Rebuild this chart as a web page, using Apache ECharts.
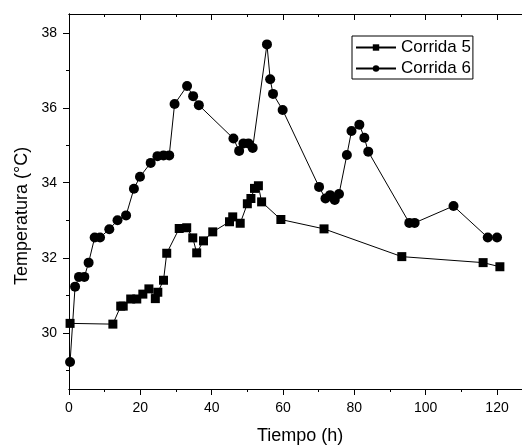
<!DOCTYPE html>
<html>
<head>
<meta charset="utf-8">
<script src="https://cdn.jsdelivr.net/npm/echarts@6/dist/echarts.min.js"></script>
<style>
  html, body { margin: 0; padding: 0; background: #fff; }
  #chart { width: 522px; height: 445px; }
</style>
</head>
<body>
<div id="chart"></div>
<script>
// Corrida 5 (squares)
const tiempo5 = [0.3, 12.3, 14.5, 15.2, 17.3, 19.0, 20.7, 22.4, 24.2, 24.9, 26.5, 27.4, 30.9, 33.0, 34.7, 35.8, 37.7, 40.3, 45.0, 45.9, 48.0, 50.0, 51.0, 52.0, 53.1, 54.0, 59.4, 71.5, 93.3, 116.1, 120.8];
const temp5 = [30.25, 30.23, 30.71, 30.71, 30.9, 30.9, 31.03, 31.17, 30.91, 31.08, 31.4, 32.12, 32.78, 32.8, 32.53, 32.13, 32.45, 32.69, 32.96, 33.09, 32.92, 33.44, 33.58, 33.85, 33.92, 33.49, 33.02, 32.77, 32.03, 31.87, 31.76];

// Corrida 6 (circles)
const tiempo6 = [0.3, 1.7, 2.8, 4.3, 5.5, 7.2, 8.7, 11.3, 13.6, 16.0, 18.2, 19.9, 22.9, 24.8, 26.5, 28.1, 29.6, 33.1, 34.8, 36.4, 46.1, 47.7, 48.9, 50.3, 51.5, 55.5, 56.4, 57.2, 59.9, 70.1, 71.9, 73.2, 74.5, 75.7, 77.9, 79.2, 81.4, 82.8, 83.9, 95.4, 96.9, 107.8, 117.4, 120.0];
const temp6 = [29.22, 31.23, 31.49, 31.49, 31.87, 32.54, 32.54, 32.76, 33.0, 33.13, 33.84, 34.16, 34.53, 34.71, 34.73, 34.73, 36.1, 36.58, 36.31, 36.07, 35.18, 34.85, 35.05, 35.05, 34.93, 37.69, 36.76, 36.37, 35.94, 33.89, 33.58, 33.67, 33.54, 33.7, 34.74, 35.38, 35.55, 35.2, 34.83, 32.93, 32.93, 33.38, 32.54, 32.54];

const xMajorTicks = [0, 20, 40, 60, 80, 100, 120];
const xMinorTicks = [10, 30, 50, 70, 90, 110];
const yMajorTicks = [30, 32, 34, 36, 38];
const yMinorTicks = [29, 31, 33, 35, 37];

const FONT = "Liberation Sans, Arial, sans-serif";

function zip(xs, ys) {
  return xs.map((x, i) => [x, ys[i]]);
}

const chart = echarts.init(document.getElementById("chart"), null, { renderer: "canvas" });

const gridRect = { left: 69, top: 14, width: 453, height: 375 };
const xRange = { min: 0, max: 127 };
const yRange = { min: 28.5, max: 38.5 };
const black = { color: "#000", width: 1 };

function xAxis(gridIndex, position, ticks, len, inside, labels) {
  return {
    type: "value", gridIndex, position, ...xRange,
    axisLine: { show: true, onZero: false, lineStyle: black },
    axisTick: { show: true, inside, length: len, customValues: ticks, lineStyle: black },
    axisLabel: labels
      ? { show: true, customValues: ticks, margin: 12, fontSize: 14, color: "#000", fontFamily: FONT }
      : { show: false },
    splitLine: { show: false }
  };
}

function yAxis(gridIndex, ticks, len, labels) {
  return {
    type: "value", gridIndex, position: "left", ...yRange,
    axisLine: { show: true, onZero: false, lineStyle: black },
    axisTick: { show: true, length: len, customValues: ticks, lineStyle: black },
    axisLabel: labels
      ? { show: true, customValues: ticks, margin: 12, fontSize: 14, color: "#000", fontFamily: FONT }
      : { show: false },
    splitLine: { show: false }
  };
}

chart.setOption({
  animation: false,
  backgroundColor: "#fff",
  grid: [
    { ...gridRect },
    { ...gridRect }
  ],
  xAxis: [
    xAxis(0, "bottom", xMajorTicks, 6, false, true),
    xAxis(0, "top", xMajorTicks, 6, true, false),
    xAxis(1, "bottom", xMinorTicks, 3, false, false),
    xAxis(1, "top", xMinorTicks, 3, true, false)
  ],
  yAxis: [
    yAxis(0, yMajorTicks, 6, true),
    yAxis(1, yMinorTicks, 3, false)
  ],
  legend: {
    left: 352,
    top: 36,
    orient: "vertical",
    itemWidth: 40,
    itemHeight: 8,
    itemGap: 4,
    padding: [3, 2, 2, 3],
    borderColor: "#000",
    borderWidth: 1,
    borderRadius: 0,
    textStyle: { fontSize: 17, color: "#000", fontFamily: FONT },
    data: ["Corrida 5", "Corrida 6"]
  },
  graphic: [
    {
      type: "text",
      left: 257, top: 427,
      style: { text: "Tiempo (h)", font: "18px " + FONT, fill: "#000" }
    },
    {
      type: "text",
      x: 13, y: 285,
      rotation: Math.PI / 2,
      style: { text: "Temperatura (°C)", font: "18px " + FONT, fill: "#000" }
    }
  ],
  series: [
    {
      name: "Corrida 5",
      type: "line",
      xAxisIndex: 0,
      yAxisIndex: 0,
      data: zip(tiempo5, temp5),
      symbol: "rect",
      symbolSize: 9,
      itemStyle: { color: "#000" },
      lineStyle: { color: "#000", width: 1 }
    },
    {
      name: "Corrida 6",
      type: "line",
      xAxisIndex: 0,
      yAxisIndex: 0,
      data: zip(tiempo6, temp6),
      symbol: "circle",
      symbolSize: 10,
      itemStyle: { color: "#000" },
      lineStyle: { color: "#000", width: 1 }
    }
  ]
});
</script>
</body>
</html>
